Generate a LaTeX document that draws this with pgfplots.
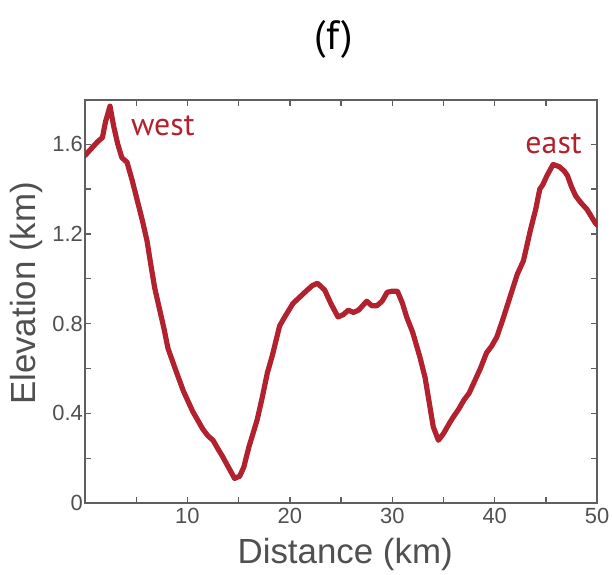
\documentclass[border=0pt]{standalone}
\usepackage{fontspec}
\setmainfont{Liberation Sans}
\newfontfamily\myr{PT Sans}
\usepackage{pgfplots}
\pgfplotsset{compat=1.18}
\definecolor{prof}{RGB}{178,34,46}
\definecolor{axgrey}{RGB}{95,95,95}
\definecolor{txtgrey}{RGB}{80,80,80}

\begin{document}
\begin{tikzpicture}
\begin{axis}[
  scale only axis, width=512bp, height=403bp,
  xmin=0, xmax=50, ymin=0, ymax=1.7975,
  xtick={10,20,30,40,50},
  minor xtick={0,5,15,25,35,45},
  ytick={0,0.4,0.8,1.2,1.6},
  yticklabels={0,0.4,0.8,1.2,1.6},
  minor ytick={0.2,0.6,1.0,1.4},
  tick align=inside,
  major tick length=6bp, minor tick length=6bp,
  axis line style={draw=axgrey, line width=1.3bp},
  tick style={draw=axgrey, line width=1.3bp},
  /pgf/number format/assume math mode=true,
  ticklabel style={font=\fontsize{22}{22}\selectfont, text=txtgrey, inner sep=2bp},
  xticklabel style={yshift=-3bp},
  label style={font=\fontsize{35}{35}\selectfont, text=txtgrey},
  xlabel={Distance (km)},
  ylabel={Elevation (km)},
  xlabel style={at={(axis description cs:0.508,-0.149)}, anchor=base},
  ylabel style={at={(axis description cs:-0.0957,0.52)}, anchor=base, rotate=0},
  clip mode=individual,
]
\addplot[prof, line width=5.2bp, line join=round, line cap=round] coordinates {
  (0,1.55)(0.6,1.58)(1.2,1.61)(1.7,1.63)(2.0,1.70)(2.44,1.77)(2.8,1.68)
  (3.2,1.60)(3.6,1.54)(4.1,1.52)(4.6,1.44)(5.1,1.35)(5.6,1.26)(6.05,1.17)
  (6.4,1.07)(6.8,0.96)(7.3,0.86)(7.7,0.78)(8.1,0.69)(8.8,0.60)(9.6,0.50)
  (10.5,0.41)(11.5,0.33)(12.0,0.30)(12.5,0.28)(13.0,0.24)(13.4,0.21)
  (14.0,0.16)(14.6,0.11)(15.1,0.12)(15.5,0.16)(16.0,0.25)(16.8,0.37)
  (17.3,0.47)(17.8,0.58)(18.3,0.66)(19.0,0.79)(19.5,0.83)(20.3,0.89)
  (21.0,0.92)(21.7,0.95)(22.2,0.97)(22.7,0.98)(23.4,0.95)(24.0,0.89)
  (24.7,0.83)(25.2,0.84)(25.7,0.86)(26.2,0.85)(26.7,0.86)(27.1,0.88)
  (27.5,0.90)(28.0,0.88)(28.5,0.88)(29.0,0.90)(29.5,0.94)(30.0,0.945)
  (30.5,0.945)(31.0,0.89)(31.4,0.83)(32.0,0.76)(32.7,0.65)(33.2,0.56)
  (33.6,0.45)(34.0,0.34)(34.5,0.28)(35.0,0.31)(35.5,0.35)(35.9,0.38)
  (36.5,0.42)(37.0,0.46)(37.5,0.49)(38.0,0.54)(38.6,0.60)(39.2,0.67)
  (39.7,0.70)(40.2,0.74)(40.8,0.82)(41.5,0.92)(42.2,1.02)(42.8,1.08)
  (43.5,1.22)(44.0,1.31)(44.4,1.40)(44.7,1.42)(45.1,1.46)(45.7,1.51)
  (46.3,1.50)(46.8,1.48)(47.1,1.46)(47.5,1.41)(47.9,1.37)(48.4,1.34)
  (49.0,1.31)(49.4,1.28)(49.8,1.25)(50,1.24)
};
\node[font=\myr\fontsize{32}{32}\selectfont, text=prof, anchor=base] at (axis cs:7.6,1.637) {west};
\node[font=\myr\fontsize{32}{32}\selectfont, text=prof, anchor=base] at (axis cs:45.75,1.561) {east};
\node[font=\myr\fontsize{41}{41}\selectfont, anchor=base] at (axis description cs:0.486,1.124) {(f)};
\coordinate (bbl) at (axis description cs:-0.166,-0.176);
\coordinate (btr) at (axis description cs:1.029,1.248);
\end{axis}
\pgfresetboundingbox
\path[use as bounding box] (bbl) rectangle (btr);
\end{tikzpicture}
\end{document}
